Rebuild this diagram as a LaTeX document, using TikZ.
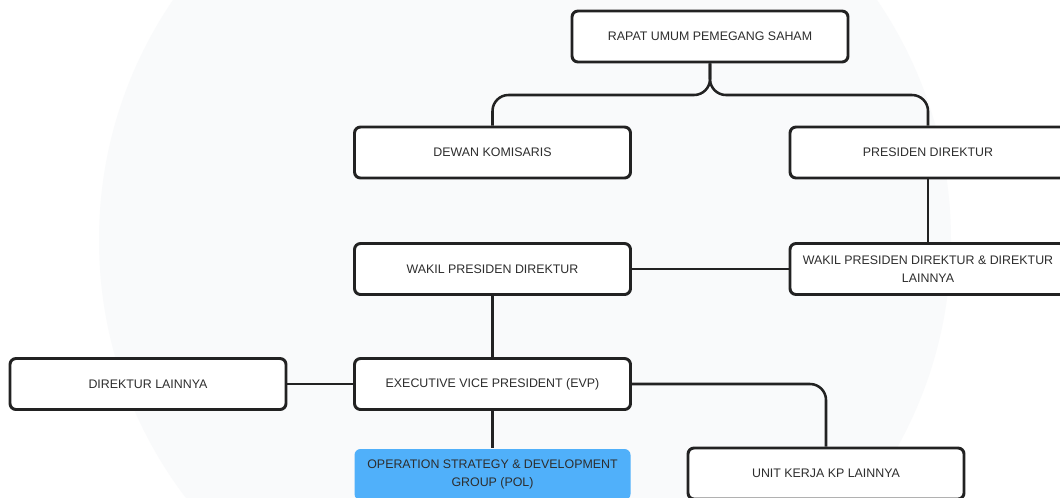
\documentclass[tikz,border=0pt]{standalone}
\usepackage{fontspec}
\setmainfont{Liberation Sans}
\definecolor{bgc}{RGB}{249,250,251}
\definecolor{linec}{RGB}{34,34,34}
\definecolor{txtc}{RGB}{45,45,45}
\definecolor{bluec}{RGB}{80,176,250}
\begin{document}
\begin{tikzpicture}[x=0.75pt,y=-0.75pt,
  box/.style={draw=linec, line width=2.2pt, rounded corners=4.5pt, fill=white,
    minimum width=207pt, minimum height=38.25pt, inner sep=0pt,
    align=center, text=txtc, font=\fontsize{9.3}{13.5}\selectfont},
  bluebox/.style={box, draw=none, fill=bluec},
  conn/.style={draw=linec, line width=1.9pt, rounded corners=12pt}]
\useasboundingbox (0,0) rectangle (1060,497);
\clip (0,0) rectangle (1060,497);
\fill[white] (0,0) rectangle (1060,497);
\fill[bgc] (525,240) circle [radius=319.5pt];
% nodes
\node[box] (rups) at (710,36.5) {RAPAT UMUM PEMEGANG SAHAM};
\node[box] (dk) at (492.5,152.5) {DEWAN KOMISARIS};
\node[box] (pd) at (928,152.5) {PRESIDEN DIREKTUR};
\node[box] (wpd) at (492.5,269) {WAKIL PRESIDEN DIREKTUR};
\node[box] (wdl) at (928,269) {WAKIL PRESIDEN DIREKTUR \& DIREKTUR\\LAINNYA};
\node[box] (dl) at (148,384) {DIREKTUR LAINNYA};
\node[box] (evp) at (492.5,384) {EXECUTIVE VICE PRESIDENT (EVP)};
\node[bluebox] (osdg) at (492.5,474.5) {OPERATION STRATEGY \& DEVELOPMENT\\GROUP (POL)};
\node[box] (uk) at (826,473.5) {UNIT KERJA KP LAINNYA};
% connectors
\coordinate (bj) at (710,95);
\draw[conn] (dk.north) |- (bj) -- (rups.south);
\draw[conn] (pd.north) |- (bj) -- (rups.south);
\draw[conn] (pd.south) -- (wdl.north);
\draw[conn] (wpd.east) -- (wdl.west);
\draw[conn] (wpd.south) -- (evp.north);
\draw[conn] (dl.east) -- (evp.west);
\draw[conn] (evp.south) -- (osdg.north);
\draw[conn] (evp.east) -| (uk.north);
\end{tikzpicture}
\end{document}
